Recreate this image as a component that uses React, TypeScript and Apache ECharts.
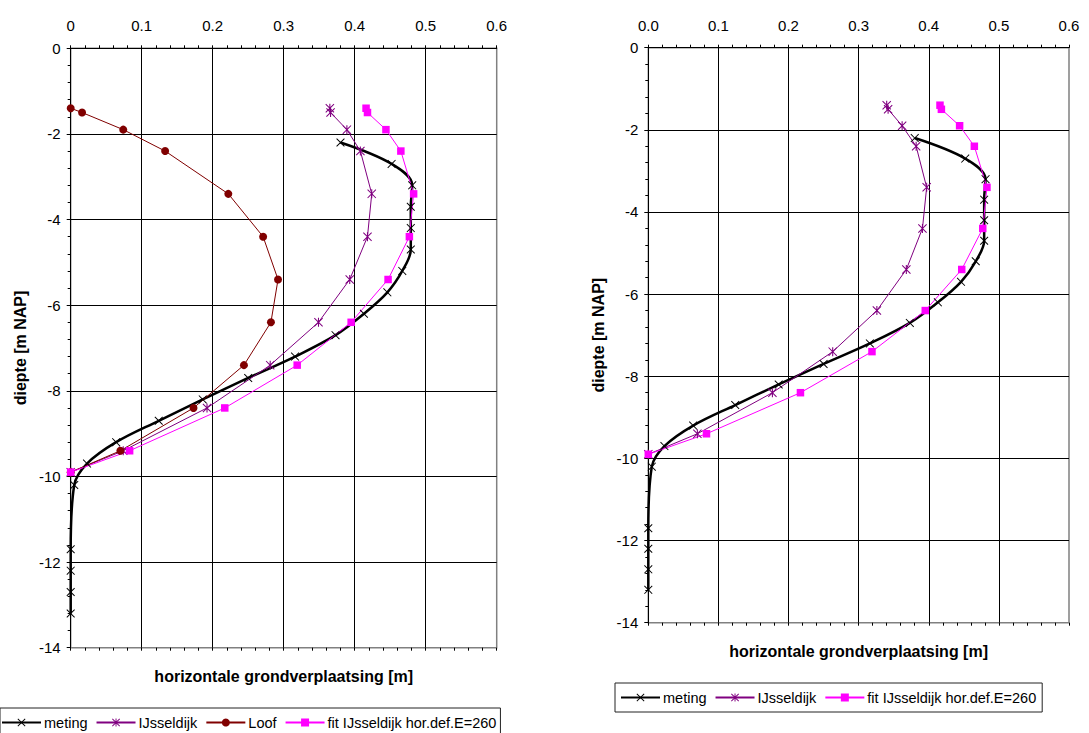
import React, { useEffect, useRef } from "react";
import * as echarts from "echarts";

// depths [m NAP]
const modelDepths = [-1.4, -1.5, -1.9, -2.4, -3.4, -4.4, -5.4, -6.4, -7.4, -8.4, -9.4, -9.9];
const metingDepths = [-2.2, -2.7, -3.2, -3.7, -4.2, -4.7, -5.2, -5.7, -6.2, -6.7, -7.2, -7.7, -8.2, -8.7, -9.2, -9.7, -10.2, -11.7, -12.2, -12.7, -13.2];

// horizontal displacement [m]
const metingDisp = [0.380, 0.452, 0.481, 0.479, 0.479, 0.479, 0.467, 0.446, 0.413, 0.373, 0.316, 0.250, 0.186, 0.124, 0.064, 0.023, 0.005, 0, 0, 0, 0];
const ijsselLeft = [0.365, 0.366, 0.389, 0.408, 0.424, 0.418, 0.393, 0.349, 0.281, 0.192, 0.074, 0];
const loofDisp = [0, 0.016, 0.074, 0.133, 0.222, 0.271, 0.292, 0.282, 0.244, 0.173, 0.070, 0];
const fitDisp = [0.416, 0.418, 0.444, 0.465, 0.483, 0.477, 0.447, 0.395, 0.319, 0.217, 0.083, 0];
const ijsselRight = [0.340, 0.342, 0.362, 0.382, 0.397, 0.391, 0.368, 0.326, 0.263, 0.177, 0.070, 0];

const xTicks = [0, 0.1, 0.2, 0.3, 0.4, 0.5, 0.6];
const yTicks = [0, -2, -4, -6, -8, -10, -12, -14];

const NAMES = ["meting", "IJsseldijk", "Loof", "fit IJsseldijk hor.def.E=260"];
const xTitle = "horizontale grondverplaatsing [m]";
const yTitle = "diepte [m NAP]";

const FONT = "'Liberation Sans', Arial, Helvetica, sans-serif";
const X_SYM = "path://M0,0.8L0.8,0L5,4.2L9.2,0L10,0.8L5.8,5L10,9.2L9.2,10L5,5.8L0.8,10L0,9.2L4.2,5Z";
const STAR_SYM = X_SYM + "M4.4,0L5.6,0L5.6,10L4.4,10Z";

const pairs = (xs: number[], ys: number[]) => xs.map((x, i) => [x, ys[i]]);

const G = [
  { left: 70.7, top: 48.3, width: 426, height: 599.4 },
  { left: 648.3, top: 47.7, width: 420.7, height: 575 },
];

function xAxes(gi: number, fmt: (v: number) => string) {
  const main = {
    type: "value",
    gridIndex: gi,
    position: "top",
    min: xTicks[0],
    max: xTicks[xTicks.length - 1],
    interval: 0.1,
    axisLine: { show: true, onZero: false, lineStyle: { color: "#000", width: 1 } },
    axisTick: { show: true, inside: false, length: 3, lineStyle: { color: "#000" } },
    minorTick: { show: true, splitNumber: 5, length: 3, lineStyle: { color: "#000" } },
    splitLine: { show: true, showMinLine: false, showMaxLine: false, lineStyle: { color: "#000", width: 1 } },
    axisLabel: { color: "#000", fontSize: 15, fontFamily: FONT, margin: 15, formatter: fmt },
  };
  const inner = {
    type: "value",
    gridIndex: gi,
    position: "bottom",
    offset: -G[gi].height,
    min: xTicks[0],
    max: xTicks[xTicks.length - 1],
    interval: 0.1,
    axisLine: { show: false },
    axisTick: { show: true, inside: false, length: 3, lineStyle: { color: "#000" } },
    minorTick: { show: true, splitNumber: 5, length: 3, lineStyle: { color: "#000" } },
    splitLine: { show: false },
    axisLabel: { show: false },
  };
  return [main, inner];
}

function yAxis(gi: number) {
  return {
    type: "value",
    gridIndex: gi,
    position: "left",
    min: yTicks[yTicks.length - 1],
    max: yTicks[0],
    interval: 2,
    axisLine: { show: true, onZero: false, lineStyle: { color: "#000", width: 1 } },
    axisTick: { show: true, inside: false, length: 4, lineStyle: { color: "#000" } },
    minorTick: { show: true, splitNumber: 5, length: 3, lineStyle: { color: "#000" } },
    splitLine: { show: true, showMinLine: false, showMaxLine: false, lineStyle: { color: "#000", width: 1 } },
    axisLabel: { color: "#000", fontSize: 15, fontFamily: FONT, margin: 10 },
    name: yTitle,
    nameLocation: "middle",
    nameRotate: 90,
    nameGap: 42,
    nameTextStyle: { color: "#000", fontSize: 16, fontWeight: "bold", fontFamily: FONT },
  };
}

function metingSeries(xi: number, yi: number) {
  return {
    name: NAMES[0],
    type: "line",
    xAxisIndex: xi,
    yAxisIndex: yi,
    data: pairs(metingDisp, metingDepths),
    smooth: 0.35,
    clip: false,
    symbol: X_SYM,
    symbolSize: 8.5,
    lineStyle: { color: "#000", width: 2.5 },
    itemStyle: { color: "#000" },
  };
}
function ijsselSeries(xi: number, yi: number, xs: number[]) {
  return {
    name: NAMES[1],
    type: "line",
    xAxisIndex: xi,
    yAxisIndex: yi,
    data: pairs(xs, modelDepths),
    clip: false,
    symbol: STAR_SYM,
    symbolSize: 9,
    lineStyle: { color: "#800080", width: 1 },
    itemStyle: { color: "#800080" },
  };
}
function loofSeries(xi: number, yi: number) {
  return {
    name: NAMES[2],
    type: "line",
    xAxisIndex: xi,
    yAxisIndex: yi,
    data: pairs(loofDisp, modelDepths),
    clip: false,
    symbol: "circle",
    symbolSize: 8,
    lineStyle: { color: "#800000", width: 1 },
    itemStyle: { color: "#800000" },
  };
}
function fitSeries(xi: number, yi: number) {
  return {
    name: NAMES[3],
    type: "line",
    xAxisIndex: xi,
    yAxisIndex: yi,
    data: pairs(fitDisp, modelDepths),
    clip: false,
    symbol: "rect",
    symbolSize: 7.5,
    lineStyle: { color: "#ff00ff", width: 1 },
    itemStyle: { color: "#ff00ff" },
  };
}

const legendBase = {
  orient: "horizontal",
  itemWidth: 39,
  itemHeight: 10,
  itemGap: 8,
  borderColor: "#222",
  borderWidth: 1,
  backgroundColor: "#fff",
  textStyle: { color: "#000", fontSize: 14.5, fontFamily: FONT, padding: [0, 0, 0, -2] },
  selectedMode: false,
};

export default function App() {
  const ref = useRef<HTMLDivElement>(null);
  useEffect(() => {
    if (!ref.current) return;
    const chart = echarts.init(ref.current, undefined, { renderer: "svg" });
    const [x0a, x0b] = xAxes(0, (v: number) => String(Math.round(v * 10) / 10));
    const [x1a, x1b] = xAxes(1, (v: number) => (Math.round(v * 10) / 10).toFixed(1));
    const titleStyle = {
      text: xTitle,
      font: `bold 16px ${FONT}`,
      fill: "#000",
      align: "center",
      verticalAlign: "middle",
      textAlign: "center",
      textVerticalAlign: "middle",
    };
    chart.setOption({
      animation: false,
      backgroundColor: "#fff",
      textStyle: { fontFamily: FONT },
      grid: G.map((g) => ({
        ...g,
        show: true,
        borderColor: "#808080",
        borderWidth: 1.5,
        backgroundColor: "transparent",
        containLabel: false,
      })),
      xAxis: [x0a, x0b, x1a, x1b],
      yAxis: [yAxis(0), yAxis(1)],
      legend: [
        { ...legendBase, left: 0, top: 708, padding: [7, 4, 7, 1], data: NAMES },
        { ...legendBase, left: 615, top: 683, padding: [7, 6, 7, 5], data: [NAMES[0], NAMES[1], NAMES[3]] },
      ],
      graphic: [
        { type: "text", x: G[0].left + G[0].width / 2, y: 676, style: { ...titleStyle } },
        { type: "text", x: G[1].left + G[1].width / 2, y: 651, style: { ...titleStyle } },
      ],
      series: [
        metingSeries(0, 0),
        ijsselSeries(0, 0, ijsselLeft),
        loofSeries(0, 0),
        fitSeries(0, 0),
        metingSeries(2, 1),
        ijsselSeries(2, 1, ijsselRight),
        fitSeries(2, 1),
      ],
    });
    return () => chart.dispose();
  }, []);
  return (
    <div
      ref={ref}
      style={{ position: "fixed", left: 0, top: 0, width: 1089, height: 733, background: "#fff" }}
    />
  );
}
